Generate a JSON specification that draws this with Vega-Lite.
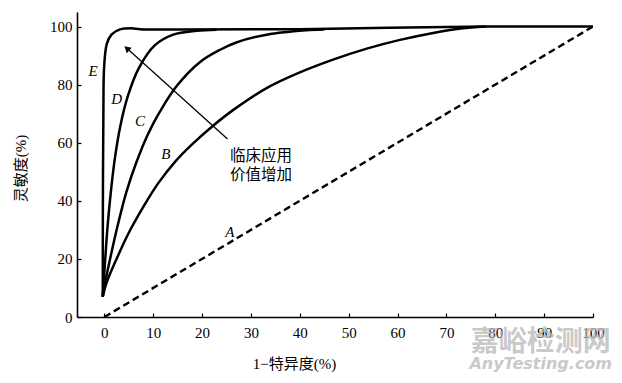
{
  "$schema": "https://vega.github.io/schema/vega-lite/v6.json",
  "width": 516,
  "height": 305,
  "autosize": "none",
  "padding": {"left": 77, "top": 12, "right": 29, "bottom": 66},
  "background": "white",
  "config": {"view": {"stroke": null}},
  "datasets": {
    "curves": [
      {"curve": "B", "i": 0, "x": -0.33, "y": 7},
      {"curve": "B", "i": 1, "x": 0.5, "y": 12},
      {"curve": "B", "i": 2, "x": 2.5, "y": 20},
      {"curve": "B", "i": 3, "x": 5, "y": 29},
      {"curve": "B", "i": 4, "x": 8, "y": 38},
      {"curve": "B", "i": 5, "x": 11, "y": 46},
      {"curve": "B", "i": 6, "x": 14.5, "y": 53.5},
      {"curve": "B", "i": 7, "x": 18, "y": 59.5},
      {"curve": "B", "i": 8, "x": 22, "y": 65.5},
      {"curve": "B", "i": 9, "x": 26.4, "y": 71.3},
      {"curve": "B", "i": 10, "x": 33.2, "y": 78.8},
      {"curve": "B", "i": 11, "x": 40, "y": 84.2},
      {"curve": "B", "i": 12, "x": 46.8, "y": 88.6},
      {"curve": "B", "i": 13, "x": 53.7, "y": 92.4},
      {"curve": "B", "i": 14, "x": 60.5, "y": 95.4},
      {"curve": "B", "i": 15, "x": 67.3, "y": 97.8},
      {"curve": "B", "i": 16, "x": 73, "y": 99.3},
      {"curve": "B", "i": 17, "x": 78, "y": 100},
      {"curve": "C", "i": 0, "x": -0.33, "y": 7},
      {"curve": "C", "i": 1, "x": 0.3, "y": 13},
      {"curve": "C", "i": 2, "x": 1.3, "y": 21},
      {"curve": "C", "i": 3, "x": 2.8, "y": 32},
      {"curve": "C", "i": 4, "x": 4.5, "y": 43},
      {"curve": "C", "i": 5, "x": 6.5, "y": 53},
      {"curve": "C", "i": 6, "x": 8.8, "y": 62.5},
      {"curve": "C", "i": 7, "x": 11.3, "y": 70.5},
      {"curve": "C", "i": 8, "x": 14.8, "y": 79.5},
      {"curve": "C", "i": 9, "x": 19.6, "y": 87.8},
      {"curve": "C", "i": 10, "x": 23.7, "y": 92},
      {"curve": "C", "i": 11, "x": 27, "y": 94.5},
      {"curve": "C", "i": 12, "x": 33.2, "y": 97.2},
      {"curve": "C", "i": 13, "x": 42, "y": 98.8},
      {"curve": "C", "i": 14, "x": 45, "y": 99},
      {"curve": "D", "i": 0, "x": -0.33, "y": 7},
      {"curve": "D", "i": 1, "x": 0.1, "y": 18},
      {"curve": "D", "i": 2, "x": 0.6, "y": 30},
      {"curve": "D", "i": 3, "x": 1.2, "y": 41},
      {"curve": "D", "i": 4, "x": 2.1, "y": 54},
      {"curve": "D", "i": 5, "x": 3.3, "y": 66},
      {"curve": "D", "i": 6, "x": 4.8, "y": 76},
      {"curve": "D", "i": 7, "x": 7, "y": 85.5},
      {"curve": "D", "i": 8, "x": 10.3, "y": 93.5},
      {"curve": "D", "i": 9, "x": 14.1, "y": 97.2},
      {"curve": "D", "i": 10, "x": 18.9, "y": 98.5},
      {"curve": "D", "i": 11, "x": 23, "y": 98.9},
      {"curve": "E", "i": 0, "x": -0.33, "y": 7},
      {"curve": "E", "i": 1, "x": -0.3, "y": 40},
      {"curve": "E", "i": 2, "x": -0.2, "y": 70},
      {"curve": "E", "i": 3, "x": -0.05, "y": 86},
      {"curve": "E", "i": 4, "x": 0.5, "y": 94},
      {"curve": "E", "i": 5, "x": 1.5, "y": 97.3},
      {"curve": "E", "i": 6, "x": 3.2, "y": 99},
      {"curve": "E", "i": 7, "x": 5.5, "y": 99.4},
      {"curve": "E", "i": 8, "x": 7.3, "y": 99.1},
      {"curve": "E", "i": 9, "x": 15, "y": 99},
      {"curve": "E", "i": 10, "x": 40, "y": 99.1},
      {"curve": "E", "i": 11, "x": 78, "y": 100},
      {"curve": "E", "i": 12, "x": 100, "y": 100}
    ],
    "diag": [
      {"x": 0, "y": 0},
      {"x": 100, "y": 100}
    ],
    "labels": [
      {"label": "A", "x": 25.7, "y": 29.3},
      {"label": "B", "x": 12.6, "y": 56.2},
      {"label": "C", "x": 7.3, "y": 67.6},
      {"label": "D", "x": 2.5, "y": 75.1},
      {"label": "E", "x": -2.3, "y": 84.6}
    ],
    "arrow": [
      {"x": 25.2, "y": 61.3, "x2": 5.0, "y2": 91.9}
    ],
    "head": [
      {"x": 4.6, "y": 92.5}
    ],
    "note": [
      {"t": "临床应用", "x": 25.7, "y": 55.3},
      {"t": "价值增加", "x": 25.7, "y": 49.0}
    ],
    "wm1": [{"t": "嘉峪检测网", "x": 89.3, "y": -8.9}],
    "wm2": [{"t": "AnyTesting.com", "x": 89.3, "y": -16.1}]
  },
  "layer": [
    {
      "data": {"name": "diag"},
      "mark": {"type": "line", "color": "black", "strokeWidth": 2.4, "strokeDash": [7, 4]},
      "encoding": {
        "x": {
          "field": "x", "type": "quantitative",
          "scale": {"domain": [-5.6, 100], "nice": false, "zero": false},
          "axis": {
            "values": [0, 10, 20, 30, 40, 50, 60, 70, 80, 90, 100],
            "grid": false,
            "tickSize": -4,
            "tickColor": "black",
            "tickWidth": 1.2,
            "domainColor": "black",
            "domainWidth": 1.6,
            "labelFont": "Liberation Serif",
            "labelFontSize": 15,
            "labelColor": "black",
            "labelPadding": 12,
            "labelFlush": false,
            "title": "1−特异度(%)",
            "titleFont": "Liberation Serif, Noto Sans CJK SC",
            "titleFontSize": 15,
            "titleFontWeight": "normal",
            "titleColor": "black",
            "titleX": 217,
            "titleY": 46,
            "titleBaseline": "middle",
            "titleAlign": "center"
          }
        },
        "y": {
          "field": "y", "type": "quantitative",
          "scale": {"domain": [0, 105], "nice": false, "zero": false},
          "axis": {
            "values": [0, 20, 40, 60, 80, 100],
            "grid": false,
            "tickSize": -4,
            "tickColor": "black",
            "tickWidth": 1.2,
            "domainColor": "black",
            "domainWidth": 1.6,
            "labelFont": "Liberation Serif",
            "labelFontSize": 15,
            "labelColor": "black",
            "labelPadding": 9,
            "labelFlush": false,
            "title": "灵敏度(%)",
            "titleFont": "Liberation Serif, Noto Sans CJK SC",
            "titleFontSize": 15,
            "titleFontWeight": "normal",
            "titleColor": "black",
            "titleX": -57,
            "titleY": 156,
            "titleBaseline": "middle",
            "titleAlign": "center",
            "titleAngle": -90
          }
        }
      }
    },
    {
      "data": {"name": "curves"},
      "mark": {"type": "line", "color": "black", "strokeWidth": 2.5, "interpolate": "catmull-rom"},
      "encoding": {
        "x": {"field": "x", "type": "quantitative", "scale": {"domain": [-5.6, 100], "nice": false, "zero": false}},
        "y": {"field": "y", "type": "quantitative", "scale": {"domain": [0, 105], "nice": false, "zero": false}},
        "detail": {"field": "curve"},
        "order": {"field": "i", "type": "quantitative"}
      }
    },
    {
      "data": {"name": "labels"},
      "mark": {"type": "text", "font": "Liberation Serif", "fontStyle": "italic", "fontSize": 15, "color": "black", "align": "center", "baseline": "middle"},
      "encoding": {
        "x": {"field": "x", "type": "quantitative", "scale": {"domain": [-5.6, 100], "nice": false, "zero": false}},
        "y": {"field": "y", "type": "quantitative", "scale": {"domain": [0, 105], "nice": false, "zero": false}},
        "text": {"field": "label"}
      }
    },
    {
      "data": {"name": "arrow"},
      "mark": {"type": "rule", "color": "black", "strokeWidth": 1.3},
      "encoding": {
        "x": {"field": "x", "type": "quantitative", "scale": {"domain": [-5.6, 100], "nice": false, "zero": false}},
        "y": {"field": "y", "type": "quantitative", "scale": {"domain": [0, 105], "nice": false, "zero": false}},
        "x2": {"field": "x2"},
        "y2": {"field": "y2"}
      }
    },
    {
      "data": {"name": "head"},
      "mark": {"type": "point", "shape": "triangle-up", "filled": true, "color": "black", "size": 55, "angle": 312, "opacity": 1},
      "encoding": {
        "x": {"field": "x", "type": "quantitative", "scale": {"domain": [-5.6, 100], "nice": false, "zero": false}},
        "y": {"field": "y", "type": "quantitative", "scale": {"domain": [0, 105], "nice": false, "zero": false}}
      }
    },
    {
      "data": {"name": "note"},
      "mark": {"type": "text", "font": "Noto Sans CJK SC", "fontSize": 15.5, "color": "black", "align": "left", "baseline": "middle"},
      "encoding": {
        "x": {"field": "x", "type": "quantitative", "scale": {"domain": [-5.6, 100], "nice": false, "zero": false}},
        "y": {"field": "y", "type": "quantitative", "scale": {"domain": [0, 105], "nice": false, "zero": false}},
        "text": {"field": "t"}
      }
    },
    {
      "data": {"name": "wm1"},
      "mark": {"type": "text", "font": "Noto Sans CJK SC", "fontSize": 28, "fontWeight": "bold", "color": "#b8b8b8", "opacity": 0.75, "align": "center", "baseline": "middle"},
      "encoding": {
        "x": {"field": "x", "type": "quantitative", "scale": {"domain": [-5.6, 100], "nice": false, "zero": false}},
        "y": {"field": "y", "type": "quantitative", "scale": {"domain": [0, 105], "nice": false, "zero": false}},
        "text": {"field": "t"}
      }
    },
    {
      "data": {"name": "wm2"},
      "mark": {"type": "text", "font": "DejaVu Sans", "fontSize": 16, "fontWeight": "bold", "fontStyle": "italic", "color": "#b8b8b8", "opacity": 0.75, "align": "center", "baseline": "middle"},
      "encoding": {
        "x": {"field": "x", "type": "quantitative", "scale": {"domain": [-5.6, 100], "nice": false, "zero": false}},
        "y": {"field": "y", "type": "quantitative", "scale": {"domain": [0, 105], "nice": false, "zero": false}},
        "text": {"field": "t"}
      }
    }
  ]
}
